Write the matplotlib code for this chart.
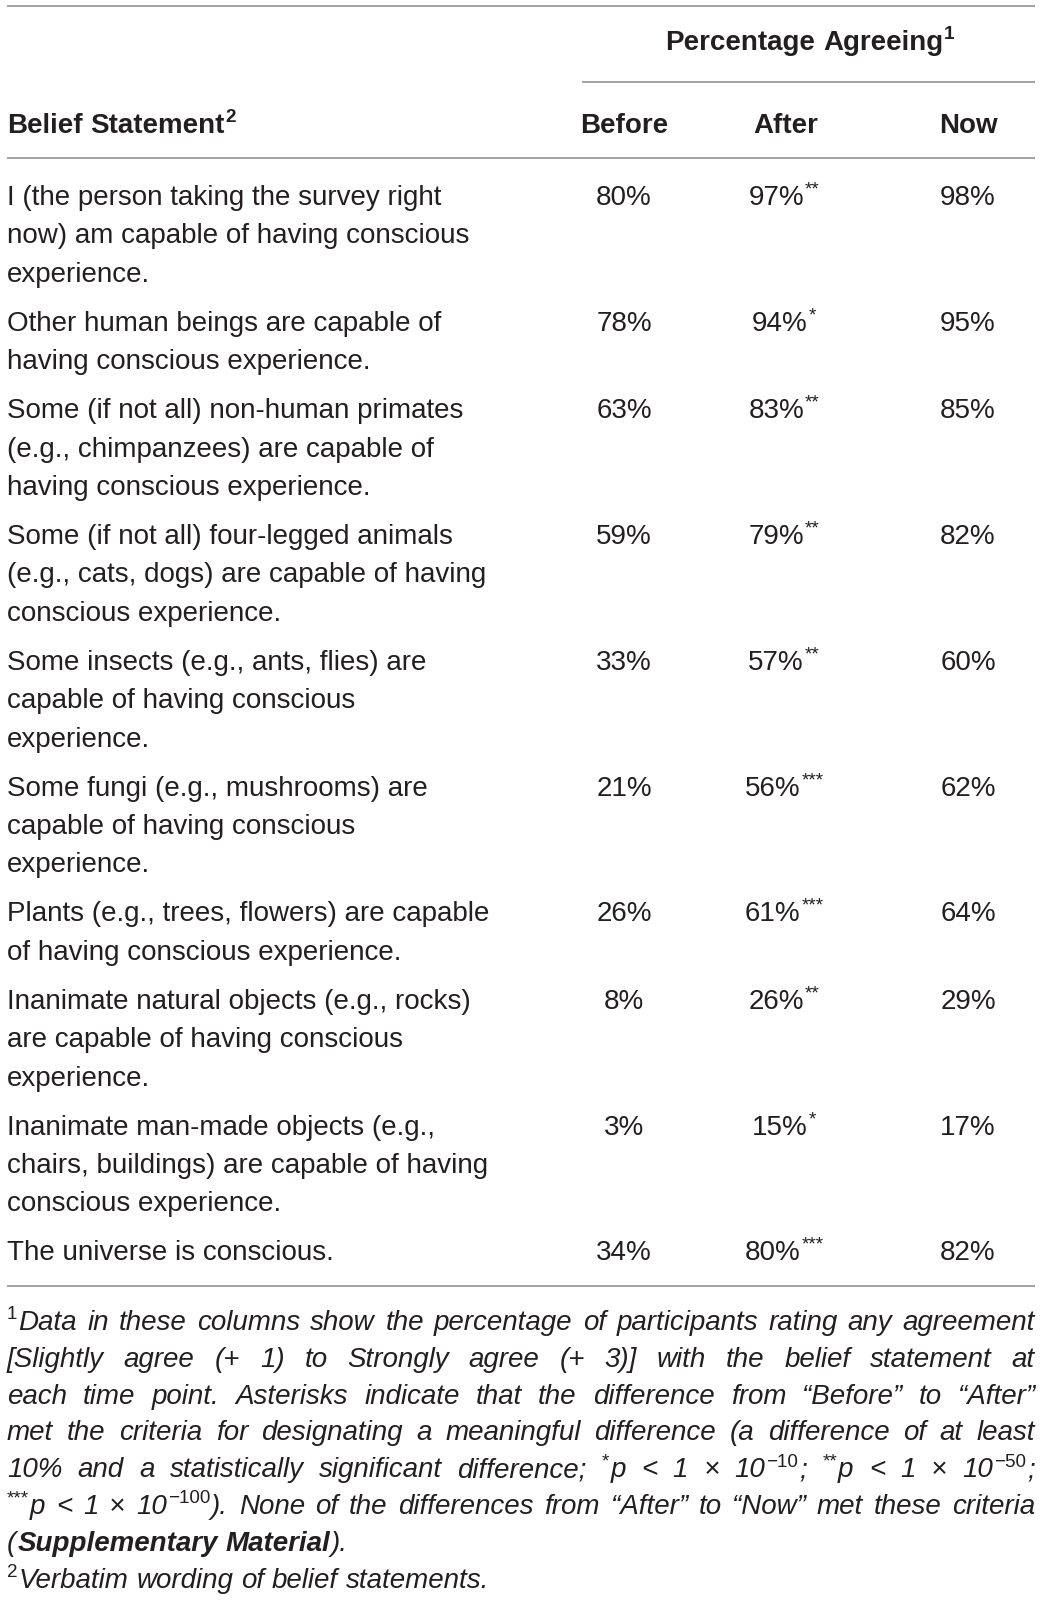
import re
import matplotlib.pyplot as plt

# table content
statements = [
    "I (the person taking the survey right\nnow) am capable of having conscious\nexperience.",
    "Other human beings are capable of\nhaving conscious experience.",
    "Some (if not all) non-human primates\n(e.g., chimpanzees) are capable of\nhaving conscious experience.",
    "Some (if not all) four-legged animals\n(e.g., cats, dogs) are capable of having\nconscious experience.",
    "Some insects (e.g., ants, flies) are\ncapable of having conscious\nexperience.",
    "Some fungi (e.g., mushrooms) are\ncapable of having conscious\nexperience.",
    "Plants (e.g., trees, flowers) are capable\nof having conscious experience.",
    "Inanimate natural objects (e.g., rocks)\nare capable of having conscious\nexperience.",
    "Inanimate man-made objects (e.g.,\nchairs, buildings) are capable of having\nconscious experience.",
    "The universe is conscious.",
]
before = [80, 78, 63, 59, 33, 21, 26, 8, 3, 34]
after = [97, 94, 83, 79, 57, 56, 61, 26, 15, 80]
after_stars = ['**', '*', '**', '**', '**', '***', '***', '**', '*', '***']
now = [98, 95, 85, 82, 60, 62, 64, 29, 17, 82]
columns = ['Before', 'After', 'Now']
group_header = "Percentage Agreeing{s:1}"
stub_header = "Belief Statement{s:2}"

# footnote lines as broken in the original ({s:..} superscript, {b:..} bold)
footnote_lines = [
    "{s:1}Data in these columns show the percentage of participants rating any agreement",
    "[Slightly agree (+ 1) to Strongly agree (+ 3)] with the belief statement at",
    "each time point. Asterisks indicate that the difference from \u201cBefore\u201d to \u201cAfter\u201d",
    "met the criteria for designating a meaningful difference (a difference of at least",
    "10% and a statistically significant difference; {s:*}p < 1 \u00d7 10{s:\u221210}; {s:**}p < 1 \u00d7 10{s:\u221250};",
    "{s:***}p < 1 \u00d7 10{s:\u2212100}). None of the differences from \u201cAfter\u201d to \u201cNow\u201d met these criteria",
    "({b:Supplementary Material}).",
    "{s:2}Verbatim wording of belief statements.",
]
justified = [True, True, True, True, True, True, False, False]

W, H = 1040, 1602
PX = 100 / 72
FONT = 'Liberation Sans'
INK = '#231f20'
RULE = '#8a8a8a'
SIZE = 20

fig = plt.figure(figsize=(W / 100, H / 100), dpi=100)
ax = fig.add_axes([0, 0, 1, 1])
ax.set_xlim(0, W)
ax.set_ylim(H, 0)
ax.axis('off')
renderer = fig.canvas.get_renderer()

LEFT, RIGHT = 7, 1035
col_x = {'Before': 624, 'After': 786, 'Now': 968}
val_x = [624, 784, 968]


def parse(line, weight, style):
    runs = []
    pos = 0
    for m in re.finditer(r'\{([bs]):([^}]*)\}', line):
        if m.start() > pos:
            runs.append((line[pos:m.start()], weight, style, False))
        if m.group(1) == 'b':
            runs.append((m.group(2), 'bold', style, False))
        else:
            # superscripts stay upright, as in the original
            runs.append((m.group(2), weight, 'normal', True))
        pos = m.end()
    if pos < len(line):
        runs.append((line[pos:], weight, style, False))
    return runs


def split_words(runs):
    words = [[]]
    for text, weight, style, sup in runs:
        for k, part in enumerate(text.split(' ')):
            if k > 0:
                words.append([])
            if part:
                words[-1].append((part, weight, style, sup))
    return [w for w in words if w]


def text_width(s, size, weight, style):
    t = ax.text(0, 0, s, fontsize=size, fontweight=weight, fontstyle=style, family=FONT)
    w = t.get_window_extent(renderer).width
    t.remove()
    return w


def draw_word(word, x, y, size):
    texts = []
    for text, weight, style, sup in word:
        fs = size * 0.68 if sup else size
        yy = y - size * PX * 0.38 if sup else y
        t = ax.text(x, yy, text, fontsize=fs, fontweight=weight, fontstyle=style,
                    family=FONT, color=INK, ha='left', va='baseline')
        x += t.get_window_extent(renderer).width + 1
        texts.append(t)
    return texts, x - 1


def layout(line, x, y, weight='normal', style='normal', size=SIZE, align='left', right=None):
    words = split_words(parse(line, weight, style))
    space = text_width('n n', size, weight, style) - text_width('nn', size, weight, style)
    placed = []
    widths = []
    for w in words:
        texts, end = draw_word(w, 0, y, size)
        placed.append(texts)
        widths.append(end)
    total = sum(widths) + space * (len(words) - 1)
    if align == 'center':
        start, gap = x - total / 2, space
    elif align == 'justify' and len(words) > 1:
        start, gap = x, (right - x - sum(widths)) / (len(words) - 1)
    else:
        start, gap = x, space
    cur = start
    for texts, w in zip(placed, widths):
        for t in texts:
            px, py = t.get_position()
            t.set_x(px + cur)
        cur += w + gap


def rule(y, x0=LEFT, x1=RIGHT):
    ax.plot([x0, x1], [y, y], color=RULE, lw=1.1, solid_capstyle='butt')


# header
rule(6)
layout(group_header, 810, 50, weight='bold', align='center')
rule(82, 582)
layout(stub_header, LEFT, 133, weight='bold')
for name in columns:
    layout(name, col_x[name], 133, weight='bold', align='center')
rule(158)

# body
line_h = 38.4
row_gap = 10.6
y = 205
for i, st in enumerate(statements):
    lines = st.split('\n')
    for k, ln in enumerate(lines):
        ax.text(LEFT, y + k * line_h, ln, fontsize=SIZE, family=FONT, color=INK,
                ha='left', va='baseline')
    vals = [f"{before[i]}%", f"{after[i]}%{{s:{after_stars[i]}}}", f"{now[i]}%"]
    for v, cx in zip(vals, val_x):
        layout(v, cx, y, align='center')
    y += len(lines) * line_h + row_gap

rule(1286)

# footnotes
fy = 1330
for ln, just in zip(footnote_lines, justified):
    layout(ln, LEFT, fy, style='italic', align='justify' if just else 'left', right=RIGHT)
    fy += 36.8

fig.savefig('out.png', dpi=100)
